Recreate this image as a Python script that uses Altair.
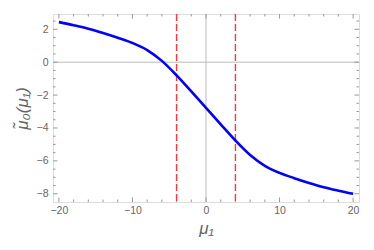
import altair as alt
import pandas as pd

# curve samples
mu1 = [-20, -18, -16, -14, -12, -10, -8, -6, -4, -2, 0,
       2, 4, 6, 8, 10, 12, 14, 16, 18, 20]
mu0 = [2.44, 2.25, 2.04, 1.78, 1.49, 1.17, 0.74, 0.08, -0.80, -1.78, -2.78,
       -3.78, -4.76, -5.64, -6.30, -6.73, -7.05, -7.34, -7.60, -7.81, -8.00]

cut_lines = [-4, 4]
x_major = [-20, -10, 0, 10, 20]
x_minor = [-18, -16, -14, -12, -8, -6, -4, -2, 2, 4, 6, 8, 12, 14, 16, 18]
y_major = [-8, -6, -4, -2, 0, 2]
y_minor = [-7.5, -7, -6.5, -5.5, -5, -4.5, -3.5, -3, -2.5, -1.5, -1, -0.5,
           0.5, 1, 1.5, 2.5]

FONT = "Liberation Sans"
GRAY = "#999999"

xs = alt.Scale(domain=[-20.8, 20.8], nice=False, zero=False)
ys = alt.Scale(domain=[-8.5, 2.93], nice=False, zero=False)

curve_df = pd.DataFrame({"x": mu1, "y": mu0})
cut_df = pd.DataFrame({"x": cut_lines})
zero_df = pd.DataFrame({"v": [0]})
xmaj_df = pd.DataFrame({"v": x_major})
xmin_df = pd.DataFrame({"v": x_minor})
ymaj_df = pd.DataFrame({"v": y_major})
ymin_df = pd.DataFrame({"v": y_minor})

X_TITLE = "\u03bc\u2081"
Y_TITLE = "\u03bc\u0303\u2080(\u03bc\u2081)"

x_axis = alt.Axis(values=x_major, format="d", title=X_TITLE, grid=False,
                  ticks=False, domain=False, labelFont=FONT, labelFontSize=10.5,
                  labelColor="#666666", labelPadding=3, titleFont=FONT,
                  titleFontSize=17, titleFontWeight="normal", titleFontStyle="italic",
                  titleColor="#666666", titlePadding=5)
y_axis = alt.Axis(values=y_major, format="d", title=Y_TITLE,
                  grid=False, ticks=False, domain=False, labelFont=FONT,
                  labelFontSize=10.5, labelColor="#666666", labelPadding=5,
                  titleFont=FONT, titleFontSize=17, titleFontWeight="normal",
                  titleFontStyle="italic", titleColor="#666666", titleX=-22)


def X(f):
    return alt.X(f, scale=xs, axis=x_axis, title=X_TITLE)


def Y(f):
    return alt.Y(f, scale=ys, axis=y_axis, title=Y_TITLE)


axis_x0 = alt.Chart(zero_df).mark_rule(color="#bbbbbb", strokeWidth=1).encode(
    x=X("v:Q"))
axis_y0 = alt.Chart(zero_df).mark_rule(color="#bbbbbb", strokeWidth=1).encode(
    y=Y("v:Q"))

cuts = alt.Chart(cut_df).mark_rule(color="#f23c3c", strokeWidth=1.4,
                                    strokeDash=[7, 3]).encode(x=X("x:Q"))

curve = alt.Chart(curve_df).mark_line(color="#0000ff", strokeWidth=2.6,
                                      interpolate="monotone", clip=True).encode(
    x=X("x:Q"), y=Y("y:Q"))


def xticks(df, length):
    b = alt.Chart(df).mark_rule(color=GRAY, strokeWidth=1, y2Offset=-length).encode(
        x=X("v:Q"), y=alt.value("height"), y2=alt.value("height"))
    t = alt.Chart(df).mark_rule(color=GRAY, strokeWidth=1).encode(
        x=X("v:Q"), y=alt.value(0), y2=alt.value(length))
    return [b, t]


def yticks(df, length):
    l = alt.Chart(df).mark_rule(color=GRAY, strokeWidth=1).encode(
        y=Y("v:Q"), x=alt.value(0), x2=alt.value(length))
    r = alt.Chart(df).mark_rule(color=GRAY, strokeWidth=1, x2Offset=-length).encode(
        y=Y("v:Q"), x=alt.value("width"), x2=alt.value("width"))
    return [l, r]


layers = ([axis_x0, axis_y0] + xticks(xmaj_df, 4.5) + xticks(xmin_df, 2.5)
          + yticks(ymaj_df, 4.5) + yticks(ymin_df, 2.5) + [cuts, curve])

chart = alt.layer(*layers).properties(
    width=357, height=234,
    autosize=alt.AutoSizeParams(type="fit", contains="padding"),
).configure_view(stroke=GRAY, strokeWidth=1).configure(background="white")

chart.save("out.html", embed_options={"renderer": "svg", "actions": False})
